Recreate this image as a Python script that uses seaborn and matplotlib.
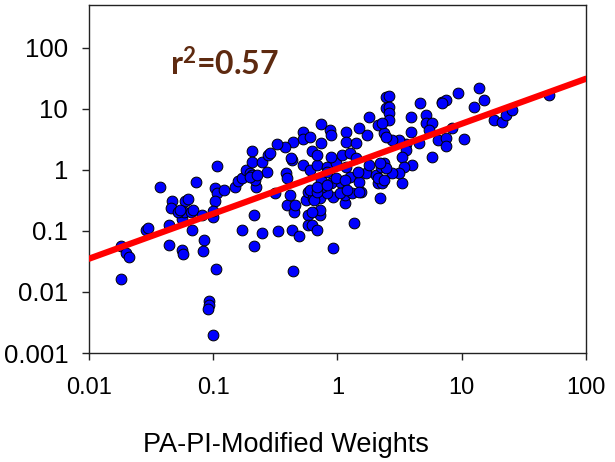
import matplotlib

matplotlib.use("Agg")
import matplotlib.pyplot as plt
import matplotlib.ticker as mticker
import pandas as pd
import seaborn as sns

# scatter values (x = PA-PI-modified weight)
weights = [
    # sparse low-left tail
    0.018, 0.018, 0.020, 0.021, 0.029, 0.030, 0.037, 0.044, 0.044, 0.047,
    0.046, 0.056, 0.057, 0.056, 0.059, 0.063, 0.058, 0.052, 0.066, 0.067,
    0.069, 0.073, 0.081, 0.085, 0.082, 0.092, 0.092, 0.090, 0.10, 0.106,
    0.099, 0.104, 0.108, 0.104, 0.121, 0.151, 0.169, 0.211, 0.211, 0.245,
    0.219, 0.335, 0.317, 0.389, 0.411, 0.427, 0.443, 0.459, 0.494, 0.435,
    0.563, 0.574, 0.574, 0.574, 0.054, 0.10, 0.108, 0.157, 0.172, 0.185,
    0.196, 0.207, 0.215, 0.207, 0.207, 0.249, 0.274, 0.269,
    # below the line, middle
    0.618, 0.690, 0.730, 0.730, 0.641, 0.730, 0.912, 0.912, 1.16, 1.14,
    1.37, 1.56, 2.18, 2.10, 2.30, 3.33, 1.32, 1.04, 0.816, 0.596, 0.653,
    # dense centre
    0.196, 0.223, 0.382, 0.389, 0.427, 0.523, 0.596, 0.678, 0.816, 0.98,
    1.18, 1.25, 1.04, 0.895, 0.757, 0.678, 0.743, 1.50, 1.71, 2.06,
    1.45, 2.26, 1.81, 0.743, 0.863, 0.879, 0.523, 0.523, 0.596, 0.435,
    0.375, 0.323, 0.284, 0.419, 0.629, 0.690, 0.743, 1.18, 1.18, 1.42,
    1.74, 1.81, 2.10, 2.39, 1.50, 0.895, 1.08, 1.25, 1.42, 0.816,
    0.98, 1.14, 1.20, 1.50, 2.10, 2.39, 0.678, 0.816, 0.629, 2.48, 2.48,
    # upper right
    13.9, 15.2, 12.6, 9.4, 7.0, 7.5, 6.9, 4.65, 2.62, 2.62,
    2.62, 2.62, 3.94, 5.2, 5.2, 5.8, 5.5, 3.94, 6.4, 7.5,
    7.5, 8.4, 10.5, 5.8, 4.57, 3.59, 3.15, 2.77, 2.48, 2.30,
    3.59, 3.33, 4.0, 3.46, 3.15, 2.77, 2.39, 2.48, 2.18, 18.3,
    20.9, 22.9, 25.6, 50.8,
]
observed = [
    0.016, 0.057, 0.044, 0.037, 0.104, 0.112, 0.53, 0.125, 0.059, 0.31,
    0.24, 0.049, 0.042, 0.157, 0.31, 0.33, 0.20, 0.20, 0.20, 0.104,
    0.22, 0.64, 0.18, 0.071, 0.047, 0.0071, 0.0061, 0.0053, 0.0020, 0.024,
    0.17, 0.51, 0.42, 0.31, 0.47, 0.53, 0.104, 0.18, 0.057, 0.093,
    0.53, 0.10, 0.42, 0.27, 0.39, 0.104, 0.20, 0.27, 0.083, 0.022,
    0.32, 0.44, 0.18, 0.125, 0.22, 0.21, 1.16, 0.66, 0.74, 1.0,
    0.89, 0.83, 0.69, 2.0, 1.35, 1.35, 1.76, 0.93,
    0.125, 0.104, 0.18, 0.22, 0.35, 0.35, 0.36, 0.053, 0.29, 0.39,
    0.135, 0.44, 0.35, 0.61, 0.61, 0.61, 0.42, 0.42, 0.42, 0.47, 0.32,
    0.77, 0.83, 0.89, 0.74, 1.46, 1.21, 1.0, 1.21, 1.12, 1.30,
    1.12, 0.77, 0.64, 0.61, 0.53, 0.44, 0.69, 0.64, 0.89, 0.83,
    0.93, 1.12, 1.21, 5.7, 4.5, 3.7, 4.2, 3.2, 3.5, 2.9,
    2.4, 2.6, 1.9, 1.57, 2.0, 1.76, 2.8, 4.2, 2.9, 2.8,
    3.7, 7.4, 5.5, 4.0, 4.9, 1.63, 1.76, 1.9, 1.57, 0.93,
    0.74, 0.69, 0.47, 0.44, 0.74, 1.30, 0.53, 0.57, 0.20, 15.7, 10.4,
    22.1, 14.1, 10.8, 18.3, 13.0, 14.1, 12.5, 12.5, 16.3, 10.8,
    8.6, 6.6, 7.4, 8.0, 5.9, 5.9, 4.5, 4.2, 3.1, 3.3,
    2.5, 4.9, 3.2, 1.63, 2.7, 2.6, 3.1, 3.1, 3.5, 5.9,
    2.1, 1.63, 1.21, 1.12, 0.89, 0.89, 0.69, 1.08, 1.30, 6.6,
    6.1, 8.0, 9.6, 17.0,
]

# fitted line end points
fit_x = [0.01, 100]
fit_y = [0.035, 31]
r2_text = r"$\mathbf{r^2}$=0.57"

x_ticks = [0.01, 0.1, 1, 10, 100]
y_ticks = [0.001, 0.01, 0.1, 1, 10, 100]

sns.set_theme(style="ticks")
plt.rcParams["font.family"] = ["Liberation Sans", "DejaVu Sans"]
plt.rcParams["mathtext.fontset"] = "custom"
plt.rcParams["mathtext.bf"] = "Lato:bold"
plt.rcParams["mathtext.rm"] = "Lato:bold"

fig = plt.figure(figsize=(6.15, 4.62), dpi=100)
ax = fig.add_axes([0.1447, 0.2359, 0.8081, 0.7533])
ax.set_xscale("log")
ax.set_yscale("log")

df = pd.DataFrame({"w": weights, "v": observed})
sns.scatterplot(
    data=df, x="w", y="v", ax=ax, s=60, color="#0000ff",
    edgecolor="black", linewidth=0.7, zorder=2,
)
ax.plot(fit_x, fit_y, color="#ff0000", lw=4.5, solid_capstyle="round", zorder=3)

ax.set_xlim(0.01, 100)
ax.set_ylim(0.001, 500)
ax.set_xticks(x_ticks)
ax.set_yticks(y_ticks)
fmt = mticker.FuncFormatter(lambda v, _: f"{v:g}")
ax.xaxis.set_major_formatter(fmt)
ax.yaxis.set_major_formatter(fmt)
ax.minorticks_off()
ax.tick_params(axis="both", direction="out", length=5, width=1,
               color="#222222", labelcolor="black")
ax.tick_params(axis="x", pad=12, labelsize=17)
ax.tick_params(axis="y", pad=10, labelsize=18.5)
for sp in ax.spines.values():
    sp.set_color("#222222")
    sp.set_linewidth(1)

ax.set_ylabel("")
ax.set_xlabel("PA-PI-Modified Weights", fontsize=19.5, color="black")
ax.xaxis.set_label_coords(0.396, -0.284)
ax.xaxis.label.set_va("baseline")

ax.text(0.163, 0.796, r2_text, transform=ax.transAxes, fontsize=23,
        fontweight="bold", color="#5e2a10", family=["Lato", "DejaVu Sans"],
        va="baseline")

fig.savefig("out.png", dpi=100, facecolor="white")
